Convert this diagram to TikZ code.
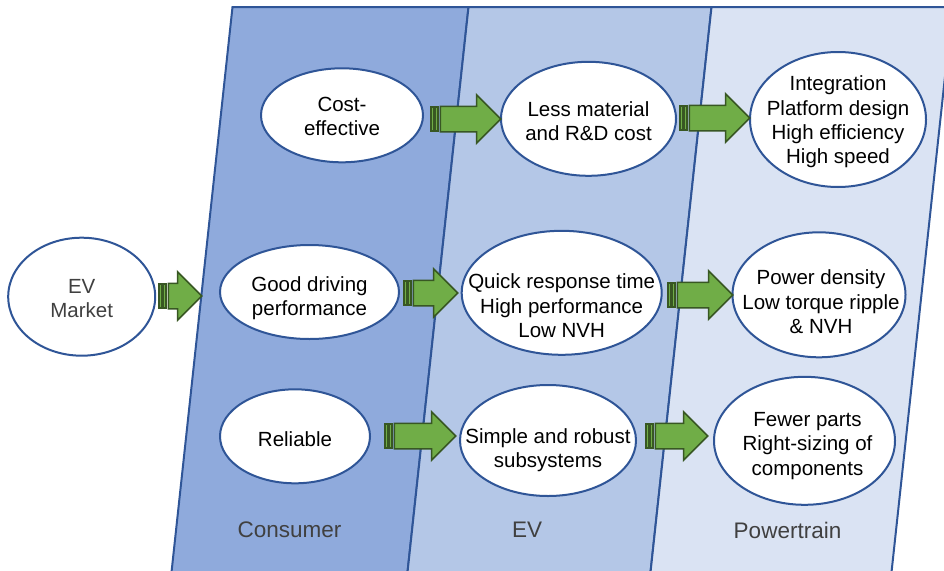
\documentclass[tikz,border=0pt]{standalone}
\usepackage{fontspec}
\setmainfont{Liberation Sans}
\usetikzlibrary{shapes.geometric,shapes.arrows}
\definecolor{consumerfill}{HTML}{8FAADC}
\definecolor{evfill}{HTML}{B4C7E7}
\definecolor{ptfill}{HTML}{DAE3F3}
\definecolor{edgeblue}{HTML}{2F5597}
\definecolor{arrowgreen}{HTML}{70AD47}
\definecolor{arrowdark}{HTML}{385723}
\definecolor{labelgray}{HTML}{404040}
% two thin bars in front of a block arrow
\newcommand{\tailstripes}[1]{%
  \draw[stripe] ([shift={(-8.5,-12)}]#1.tail) rectangle ([shift={(-6,12)}]#1.tail);
  \draw[stripe] ([shift={(-4.5,-12)}]#1.tail) rectangle ([shift={(-1.5,12)}]#1.tail);}

\begin{document}
\begin{tikzpicture}
[x=1pt,y=-1pt,
bubble/.style={ellipse, draw=edgeblue, line width=2, fill=white, inner sep=0},
words/.style={align=center, inner sep=0, font={\fontsize{20.5}{24.3}\selectfont}},
bigarrow/.style={single arrow, draw=arrowdark, fill=arrowgreen, line width=1.5, inner xsep=0, inner ysep=12, single arrow head extend=11.5, single arrow tip angle=90, anchor=tail, minimum height=#1},
stripe/.style={draw=arrowdark, fill=arrowgreen, line width=1.2},
band/.style={draw=edgeblue, line width=2},
lane/.style={text=labelgray, font={\fontsize{22.5}{27}\selectfont}}]
    \clip (0,0) rectangle (944,570);
    % the three lanes
    \filldraw[band, fill=consumerfill] (232.5,7) -- (468.5,7) -- (407.2,575) -- (171.2,575) -- cycle;
    \filldraw[band, fill=evfill] (468.5,7) -- (711.5,7) -- (650.2,575) -- (407.2,575) -- cycle;
    \filldraw[band, fill=ptfill] (711.5,7) -- (952.5,7) -- (891.2,575) -- (650.2,575) -- cycle;
    \node[lane] (consumer) at (289.5,530) {Consumer};
    \node[lane] (ev) at (527,530) {EV};
    \node[lane] (powertrain) at (787.5,530) {Powertrain};
    % bubbles
    \node[bubble, minimum width=147, minimum height=118, label={[words,text=labelgray,yshift=-1.5]center:{EV\\Market}}] (market) at (81.7,296.7) {};
    \node[bubble, minimum width=162, minimum height=94, label={[words,yshift=-1]center:{Cost-\\effective}}] (cost) at (342,115.3) {};
    \node[bubble, minimum width=179, minimum height=94, label={[words,yshift=-6]center:{Good driving\\performance}}] (drive) at (309.5,292) {};
    \node[bubble, minimum width=150, minimum height=94, label={[words,yshift=-3]center:{Reliable}}] (reliable) at (295,436.3) {};
    \node[bubble, minimum width=175, minimum height=114, label={[words,yshift=-2.5]center:{Less material\\and R\&D cost}}] (material) at (588.5,118.8) {};
    \node[bubble, minimum width=200, minimum height=124, label={[words,yshift=-13]center:{Quick response time\\High performance\\Low NVH}}] (quick) at (561.7,292.8) {};
    \node[bubble, minimum width=176, minimum height=111, label={[words,yshift=-10]center:{Simple and robust\\subsystems}}] (simple) at (548,440.5) {};
    \node[bubble, minimum width=176, minimum height=135, label={[words,yshift=-2.5]center:{Integration\\Platform design\\High efficiency\\High speed}}] (integration) at (838,119.5) {};
    \node[bubble, minimum width=173, minimum height=125, label={[words,xshift=2,yshift=-7]center:{Power density\\Low torque ripple\\\& NVH}}] (density) at (819,294.8) {};
    \node[bubble, minimum width=181, minimum height=128, label={[words,xshift=3,yshift=-5]center:{Fewer parts\\Right-sizing of\\components}}] (fewer) at (804.5,440.8) {};
    % block arrows
    \node[bigarrow=33.5] (a0) at (167.5,296) {};
    \node[bigarrow=60.5] (a1) at (439.5,119) {};
    \node[bigarrow=44.5] (a2) at (412.5,293) {};
    \node[bigarrow=61.5] (a3) at (393.5,436) {};
    \node[bigarrow=60.5] (a4) at (688.5,118) {};
    \node[bigarrow=55.5] (a5) at (676.5,295) {};
    \node[bigarrow=52.5] (a6) at (654.5,436) {};
    \tailstripes{a0}
    \tailstripes{a1}
    \tailstripes{a2}
    \tailstripes{a3}
    \tailstripes{a4}
    \tailstripes{a5}
    \tailstripes{a6}
\end{tikzpicture}
\end{document}
